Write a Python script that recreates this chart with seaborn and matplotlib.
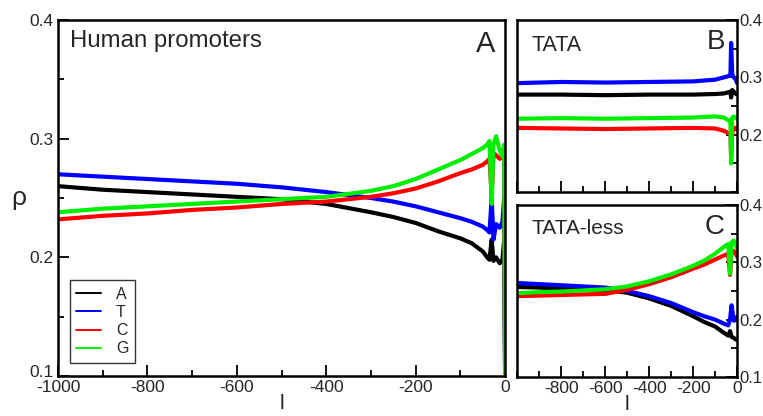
import numpy as np
import pandas as pd
import matplotlib
matplotlib.use("Agg")
import matplotlib.pyplot as plt
import matplotlib.transforms as mtransforms
from matplotlib.ticker import MultipleLocator, FormatStrFormatter
import seaborn as sns

# values (rho vs position l)
bases = ['A', 'T', 'C', 'G']
colors = {'A': 'black', 'T': '#0000ff', 'C': '#ff0000', 'G': '#00ee00'}

# panel A: human promoters
l_all = [-1000, -900, -800, -700, -600, -500, -400, -300, -250, -200, -150, -100,
         -75, -50, -40, -35, -30, -26, -20, -12, -6, -2, 0]
all_A = [0.260, 0.257, 0.255, 0.253, 0.251, 0.249, 0.245, 0.238, 0.234, 0.229, 0.222, 0.216,
         0.212, 0.205, 0.200, 0.198, 0.215, 0.197, 0.200, 0.195, 0.198, 0.215, 0.100]
all_T = [0.270, 0.268, 0.266, 0.264, 0.262, 0.259, 0.255, 0.250, 0.247, 0.243, 0.238, 0.233,
         0.230, 0.226, 0.223, 0.221, 0.250, 0.215, 0.228, 0.225, 0.230, 0.250, 0.100]
all_C = [0.232, 0.235, 0.237, 0.240, 0.242, 0.245, 0.247, 0.251, 0.254, 0.258, 0.264, 0.271,
         0.274, 0.278, 0.281, 0.283, 0.252, 0.288, 0.286, 0.283, 0.285, 0.290, 0.100]
all_G = [0.238, 0.241, 0.243, 0.245, 0.247, 0.249, 0.251, 0.256, 0.260, 0.266, 0.274, 0.282,
         0.287, 0.292, 0.295, 0.298, 0.245, 0.295, 0.302, 0.290, 0.285, 0.295, 0.100]

# panel B: TATA promoters
l_tata = [-1000, -800, -600, -400, -200, -100, -60, -40, -30, -27, -22, -15, -8, 0]
tata_A = [0.270, 0.270, 0.269, 0.270, 0.270, 0.271, 0.272, 0.274, 0.275, 0.265, 0.278, 0.275, 0.272, 0.270]
tata_T = [0.290, 0.292, 0.291, 0.292, 0.293, 0.296, 0.300, 0.302, 0.305, 0.360, 0.305, 0.300, 0.298, 0.290]
tata_C = [0.212, 0.211, 0.210, 0.211, 0.212, 0.211, 0.207, 0.203, 0.203, 0.160, 0.205, 0.210, 0.212, 0.210]
tata_G = [0.228, 0.229, 0.228, 0.229, 0.230, 0.232, 0.230, 0.225, 0.225, 0.150, 0.230, 0.232, 0.230, 0.228]

# panel C: TATA-less promoters
l_less = [-1000, -900, -800, -700, -600, -500, -400, -300, -200, -150, -100, -60, -40,
          -32, -25, -15, -5, 0]
less_A = [0.257, 0.256, 0.254, 0.253, 0.252, 0.247, 0.237, 0.224, 0.206, 0.196, 0.188, 0.177, 0.172,
          0.180, 0.170, 0.168, 0.165, 0.165]
less_T = [0.264, 0.262, 0.260, 0.258, 0.256, 0.250, 0.241, 0.229, 0.213, 0.206, 0.200, 0.193, 0.190,
          0.200, 0.225, 0.198, 0.200, 0.205]
less_C = [0.241, 0.242, 0.243, 0.244, 0.245, 0.252, 0.262, 0.274, 0.289, 0.296, 0.305, 0.312, 0.315,
          0.278, 0.318, 0.320, 0.315, 0.310]
less_G = [0.246, 0.248, 0.249, 0.251, 0.253, 0.258, 0.267, 0.279, 0.294, 0.303, 0.315, 0.327, 0.332,
          0.280, 0.335, 0.338, 0.330, 0.325]


def long_form(l, series):
    frames = []
    for b, vals in zip(bases, series):
        frames.append(pd.DataFrame({'l': l, 'rho': vals, 'base': b}))
    return pd.concat(frames, ignore_index=True)


df_all = long_form(l_all, [all_A, all_T, all_C, all_G])
df_tata = long_form(l_tata, [tata_A, tata_T, tata_C, tata_G])
df_less = long_form(l_less, [less_A, less_T, less_C, less_G])

sns.set_style('ticks')
plt.rcParams['font.family'] = ['Liberation Sans', 'DejaVu Sans']
plt.rcParams['axes.unicode_minus'] = False

fig = plt.figure(figsize=(7.63, 4.16), dpi=100)
axA = fig.add_axes([0.076, 0.096, 0.586, 0.856])
axB = fig.add_axes([0.678, 0.538, 0.288, 0.414])
axC = fig.add_axes([0.678, 0.094, 0.288, 0.413])

for ax, df in [(axA, df_all), (axB, df_tata), (axC, df_less)]:
    sns.lineplot(data=df, x='l', y='rho', hue='base', hue_order=bases, palette=colors,
                 linewidth=3.0, sort=False, legend=(ax is axA), ax=ax)
    ax.set_xlim(-1000, 0)
    ax.set_ylim(0.1, 0.4)
    ax.xaxis.set_major_locator(MultipleLocator(200))
    ax.xaxis.set_minor_locator(MultipleLocator(100))
    ax.yaxis.set_major_locator(MultipleLocator(0.1))
    ax.yaxis.set_minor_locator(MultipleLocator(0.05))
    ax.tick_params(which='both', direction='in', color='black', width=1.3,
                   bottom=True, left=True, top=False, right=False)
    ax.tick_params(which='major', length=8, labelsize=12.5, pad=3)
    ax.tick_params(which='minor', length=4)
    for s in ax.spines.values():
        s.set_visible(True)
        s.set_linewidth(1.8)
        s.set_color('black')
    ax.set_xlabel('')
    ax.set_ylabel('')
    ax.yaxis.set_major_formatter(FormatStrFormatter('%.1f'))

# panel A labels
axA.set_ylabel('ρ', fontsize=19, rotation=0, labelpad=8, va='center')
axA.set_xlabel('l', fontsize=15, labelpad=-1)
axA.text(0.027, 0.924, 'Human promoters', transform=axA.transAxes, fontsize=17.3,
         ha='left', va='baseline')
axA.text(0.978, 0.91, 'A', transform=axA.transAxes, fontsize=21, ha='right', va='baseline')
leg = axA.legend(loc='lower left', bbox_to_anchor=(0.008, 0.015), fontsize=11.5, frameon=True,
                 fancybox=False, edgecolor='black', handlelength=1.6, borderpad=0.4,
                 labelspacing=0.2, handletextpad=0.9, title=None)
leg.get_frame().set_linewidth(1.0)
for h in leg.get_lines():
    h.set_linewidth(1.4)

# panel B
axB.tick_params(axis='y', which='both', left=False, right=True, labelright=True, labelleft=False)
axB.tick_params(axis='y', which='major', labelsize=12, pad=1.5)
axB.tick_params(axis='x', labelbottom=False)
axB.set_yticks([0.2, 0.3, 0.4])
axB.yaxis.set_minor_locator(MultipleLocator(0.05))
axB.text(0.064, 0.82, 'TATA', transform=axB.transAxes, fontsize=15.5, ha='left', va='baseline')
axB.text(0.945, 0.83, 'B', transform=axB.transAxes, fontsize=20, ha='right', va='baseline')

# panel C
axC.tick_params(axis='y', which='both', left=False, right=True, labelright=True, labelleft=False)
axC.tick_params(axis='y', which='major', labelsize=12, pad=1.5)
axC.set_xticks([-800, -600, -400, -200, 0])
axC.xaxis.set_minor_locator(MultipleLocator(100))
axC.set_xlabel('l', fontsize=15, labelpad=-1)
axC.text(0.064, 0.83, 'TATA-less', transform=axC.transAxes, fontsize=15, ha='left', va='baseline')
axC.text(0.945, 0.83, 'C', transform=axC.transAxes, fontsize=20, ha='right', va='baseline')

# lift the bottom y label of panel A a little, as in the original
fig.canvas.draw()
shift = mtransforms.ScaledTranslation(0, 4 / 72, fig.dpi_scale_trans)
for lab in axA.get_yticklabels():
    if lab.get_text() == '0.1':
        lab.set_transform(lab.get_transform() + shift)

fig.savefig('out.png', dpi=100)
